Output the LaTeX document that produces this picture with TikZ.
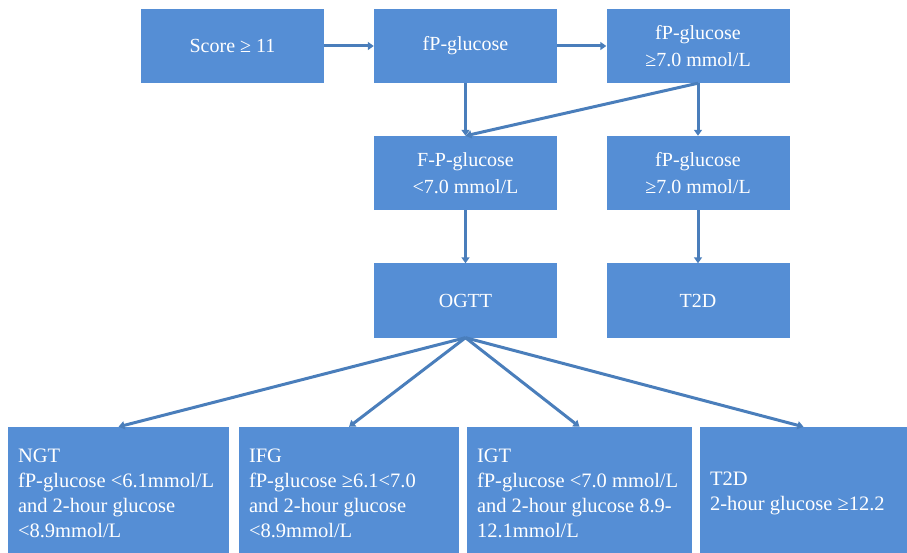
\documentclass[tikz,border=0pt]{standalone}
\usepackage{fontspec}
\setmainfont{Liberation Serif}
\usetikzlibrary{arrows.meta}
\definecolor{caixa}{RGB}{85,142,213}
\definecolor{fletxa}{RGB}{74,126,187}
\newcommand{\textresultat}[2]{\raisebox{-3.5pt}[\height][\depth]{\parbox{#1}{\raggedright #2}}}
\tikzset{
  caixa/.style={fill=caixa, text=white, minimum width=183pt, minimum height=74pt,
    align=center, inner sep=0pt, font=\fontsize{20}{27}\selectfont},
  resultat/.style={fill=caixa, text=white, minimum height=126pt, inner sep=0pt,
    font=\fontsize{20.5}{25}\selectfont},
  fletxa/.style={draw=fletxa, line width=3pt, -{Triangle[length=6pt,width=8pt]}}
}
\begin{document}
\begin{tikzpicture}[x=1pt, y=-1pt]
	\useasboundingbox (0,0) rectangle (907,553);
	%Primera fila
	\node[caixa] (score) at (232.5,46) {Score ≥ 11};
	\node[caixa] (fpg) at (465.5,46) {fP-glucose};
	\node[caixa] (fpgalt) at (698,46) {fP-glucose\\≥7.0 mmol/L};
	%Segona fila
	\node[caixa] (fpgbaix) at (465.5,173) {F-P-glucose\\<7.0 mmol/L};
	\node[caixa] (fpgconf) at (698,173) {fP-glucose\\≥7.0 mmol/L};
	%Tercera fila
	\node[caixa] (ogtt) at (465.5,300.5) {OGTT};
	\node[caixa] (t2d) at (698,300.5) {T2D};
	%Resultats
	\node[resultat, minimum width=221pt] (ngt) at (118.5,490)
		{\textresultat{201pt}{NGT\\fP-glucose <6.1mmol/L\\and 2-hour glucose\\<8.9mmol/L}};
	\node[resultat, minimum width=220pt] (ifg) at (349,490)
		{\textresultat{200pt}{IFG\\fP-glucose ≥6.1<7.0\\and 2-hour glucose\\<8.9mmol/L}};
	\node[resultat, minimum width=225pt] (igt) at (579.5,490)
		{\textresultat{205pt}{IGT\\fP-glucose <7.0 mmol/L\\and 2-hour glucose 8.9-\\12.1mmol/L}};
	\node[resultat, minimum width=207pt] (t2dogtt) at (803.5,490)
		{\textresultat{187pt}{T2D\\2-hour glucose ≥12.2}};
	%Fletxes
	\draw[fletxa] (score) -- (fpg);
	\draw[fletxa] (fpg) -- (fpgalt);
	\draw[fletxa] (fpg.south) -- (fpgbaix.north);
	\draw[fletxa] (fpgalt.south) -- (fpgbaix.north);
	\draw[fletxa] (fpgalt.south) -- (fpgconf.north);
	\draw[fletxa] (fpgbaix.south) -- (ogtt.north);
	\draw[fletxa] (fpgconf.south) -- (t2d.north);
	\draw[fletxa] (ogtt.south) -- (ngt.north);
	\draw[fletxa] (ogtt.south) -- (ifg.north);
	\draw[fletxa] (ogtt.south) -- (igt.north);
	\draw[fletxa] (ogtt.south) -- (t2dogtt.north);
\end{tikzpicture}
\end{document}
